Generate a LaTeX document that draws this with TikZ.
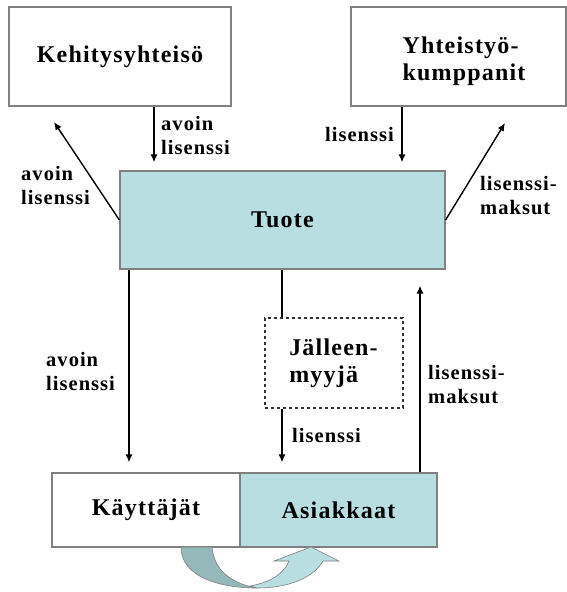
\documentclass[tikz,border=0pt]{standalone}
\usepackage{fontspec}
\setmainfont{Liberation Serif}
\newfontfamily\mainfnt[LetterSpace=5]{Liberation Serif}
\newfontfamily\lblfnt[LetterSpace=5]{Liberation Serif}
\usetikzlibrary{arrows.meta}
\definecolor{boxblue}{HTML}{B8DEE1}
\definecolor{darkteal}{HTML}{95B9BA}
\definecolor{edgegray}{HTML}{808080}
\tikzset{
  box/.style={draw=edgegray, line width=1.2pt, minimum width=#1, inner sep=0pt},
  bigtext/.style={font=\mainfnt\bfseries\fontsize{24}{27}\selectfont, align=left},
  lbl/.style={font=\lblfnt\bfseries\fontsize{20.5}{24}\selectfont, align=left, inner sep=0pt},
  arr/.style={line width=1.4pt, -{Latex[length=8pt,width=7pt]}},
  ln/.style={line width=1.4pt}
}
\begin{document}
\begin{tikzpicture}[x=1pt,y=-1pt]
\useasboundingbox (0,0) rectangle (567,592);
% boxes
\node[box=222pt, minimum height=99pt, bigtext] (K) at (120,56.5) {Kehitysyhteisö};
\node[box=215pt, minimum height=99pt] (Y) at (458.5,56.5) {};
\node[bigtext, inner sep=0pt] (Yt) at (464,61) {Yhteistyö-\\kumppanit};
\node[box=325pt, minimum height=98pt, fill=boxblue, bigtext] (T) at (282.5,220) {Tuote};
\node[box=138pt, minimum height=90pt, draw=black!80, line width=1.2pt, dashed] (J) at (334,363) {};
\node[bigtext, inner sep=0pt] (Jt) at (333.5,363.5) {Jälleen-\\myyjä};
\node[box=188pt, minimum height=74pt, fill=white, bigtext] (U) at (146,510) {Käyttäjät};
\node[box=197pt, minimum height=74pt, fill=boxblue, bigtext] (A) at (338.5,510) {Asiakkaat};
% free ends
\coordinate (kL) at (54,122);
\coordinate (kR) at (505,123);
% connectors
\draw[arr, shorten >=8pt] ([xshift=34pt]K.south) -- ([xshift=34pt]K.south |- T.north);
\draw[arr, shorten >=8pt] ([xshift=-56.5pt]Y.south) -- ([xshift=-56.5pt]Y.south |- T.north);
\draw[arr] (T.west) -- (kL);
\draw[arr] (T.east) -- (kR);
\draw[arr, shorten >=10pt] ([xshift=-153.5pt]T.south) -- ([xshift=-153.5pt]T.south |- U.north);
\draw[ln] ([xshift=-0.5pt]T.south) -- ([xshift=-0.5pt]T.south |- J.north);
\draw[arr, shorten >=10pt] ([xshift=-52pt]J.south) -- ([xshift=-52pt]J.south |- A.north);
\draw[arr, shorten >=16pt] ([xshift=81.5pt]A.north) -- ([xshift=81.5pt]A.north |- T.south);
% labels
\node[lbl, anchor=west] (l1) at (161,135) {avoin\\lisenssi};
\node[lbl, anchor=east] (l2) at (394,134) {lisenssi};
\node[lbl, anchor=west] (l3) at (21,185.5) {avoin\\lisenssi};
\node[lbl, anchor=west] (l4) at (480,195.5) {lisenssi-\\maksut};
\node[lbl, anchor=west] (l5) at (46,371) {avoin\\lisenssi};
\node[lbl, anchor=west] (l6) at (292,435) {lisenssi};
\node[lbl, anchor=west] (l7) at (428,384.5) {lisenssi-\\maksut};
% curved arrow
\fill[darkteal, draw=edgegray, line width=0.6pt]
  (181,547) -- (212,547) .. controls (214,572) and (234,584) .. (257,588)
  .. controls (222,588) and (181,578) .. (181,547) -- cycle;
\fill[boxblue, draw=edgegray, line width=0.6pt]
  (250,586) .. controls (272,582) and (284,573) .. (289,561) -- (274,561) -- (311,547)
  -- (339,561) -- (323,561) .. controls (314,577) and (290,588) .. (257,588) -- cycle;
\end{tikzpicture}
\end{document}
